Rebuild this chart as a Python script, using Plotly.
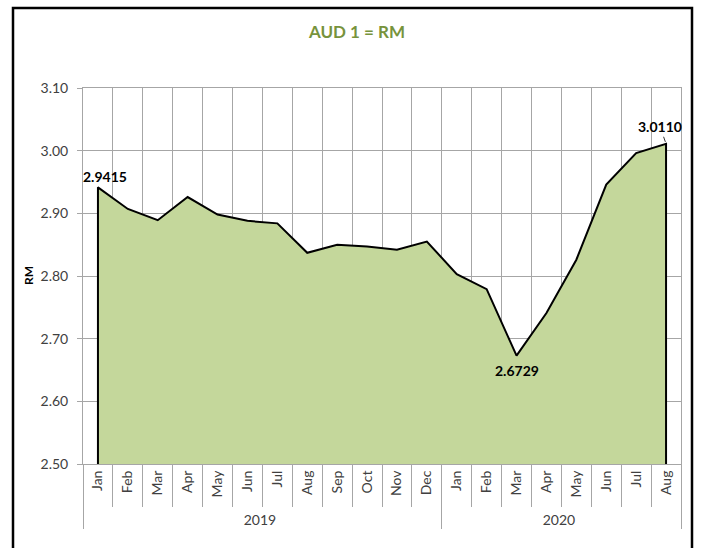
import plotly.graph_objects as go

years = ["2019"] * 12 + ["2020"] * 8
months = ["Jan", "Feb", "Mar", "Apr", "May", "Jun", "Jul", "Aug", "Sep", "Oct", "Nov", "Dec",
          "Jan", "Feb", "Mar", "Apr", "May", "Jun", "Jul", "Aug"]
rates = [2.9415, 2.907, 2.889, 2.926, 2.898, 2.888, 2.884, 2.837, 2.850, 2.847, 2.842, 2.855,
         2.803, 2.779, 2.6729, 2.741, 2.826, 2.946, 2.996, 3.0110]
y_ticks = [2.50, 2.60, 2.70, 2.80, 2.90, 3.00, 3.10]
labelled = [0, 14, 19]  # indices of the annotated points

ymin, ymax = y_ticks[0], y_ticks[-1]
FONT = "Lato, 'DejaVu Sans', sans-serif"
GRID = "#A6A6A6"

# closed area outline (drops to the axis minimum at both ends, like an Excel area chart)
px = [years[0]] + years + [years[-1]]
mx = [months[0]] + months + [months[-1]]
py = [ymin] + rates + [ymin]

fig = go.Figure()
fig.add_trace(go.Scatter(
    x=[px, mx], y=py, mode="lines", fill="tozeroy",
    fillcolor="#C4D79B", line=dict(color="black", width=2),
    hoverinfo="skip", showlegend=False,
))

W, H = 707, 548
L, R, T, B = 83, 26, 88, 84
pw, ph = W - L - R, H - T - B

def px2x(p):
    return (p - L) / pw

def py2y(p):
    return (H - B - p) / ph

label_font = dict(family=FONT, size=14, color="black", weight="bold")
# first point: label above, slightly right
i = labelled[0]
fig.add_annotation(x=i, y=rates[i], text=f"{rates[i]:.4f}", showarrow=False,
                   xshift=7, yshift=11, font=label_font)
# minimum: label below
i = labelled[1]
fig.add_annotation(x=i, y=rates[i], text=f"{rates[i]:.4f}", showarrow=False,
                   yshift=-15, font=label_font)
# last point: label above with short leader line
i = labelled[2]
fig.add_annotation(x=i, y=rates[i], text=f"{rates[i]:.4f}", showarrow=True,
                   ax=-6, ay=-17, arrowhead=0, arrowwidth=0.8, arrowcolor="black",
                   standoff=2, font=label_font)

fig.add_shape(type="rect", xref="paper", yref="paper",
              x0=px2x(13), x1=px2x(692), y0=py2y(570), y1=py2y(8),
              line=dict(color="black", width=2.5), fillcolor="rgba(0,0,0,0)", layer="above")

fig.add_annotation(text="<b>RM</b>", xref="paper", yref="paper", x=px2x(28), y=0.5,
                   textangle=-90, showarrow=False, xanchor="center", yanchor="middle",
                   font=dict(family=FONT, size=12, color="black"))

fig.update_layout(
    width=W, height=H,
    margin=dict(l=L, r=R, t=T, b=B),
    paper_bgcolor="white", plot_bgcolor="white",
    font=dict(family=FONT, size=14, color="#404040"),
    title=dict(text="<b>AUD 1 = RM</b>", x=357 / W, xanchor="center", y=1 - 32 / H, yanchor="middle",
               font=dict(family=FONT, size=17, color="#77933C")),
)
fig.update_xaxes(
    type="multicategory", range=[-0.5, len(rates) - 0.5],
    showgrid=True, gridcolor=GRID, gridwidth=1,
    showline=True, linecolor=GRID, linewidth=1, mirror=True,
    ticks="outside", ticklen=42, tickcolor=GRID, tickangle=-90,
    showdividers=True, dividercolor=GRID, dividerwidth=1,
    tickfont=dict(family=FONT, size=14, color="#404040"),
    automargin=False,
)
fig.update_yaxes(
    range=[ymin, ymax], tickvals=y_ticks, ticktext=[f"{v:.2f}" for v in y_ticks],
    showgrid=True, gridcolor=GRID, gridwidth=1,
    showline=True, linecolor=GRID, linewidth=1, mirror=True,
    ticks="outside", ticklen=5, tickcolor=GRID, ticklabelstandoff=6,
    tickfont=dict(family=FONT, size=14, color="#404040"),
    zeroline=False, automargin=False,
)

fig.write_html("out.html", config={"displayModeBar": False},
               post_script="document.body.style.margin='0px';")
